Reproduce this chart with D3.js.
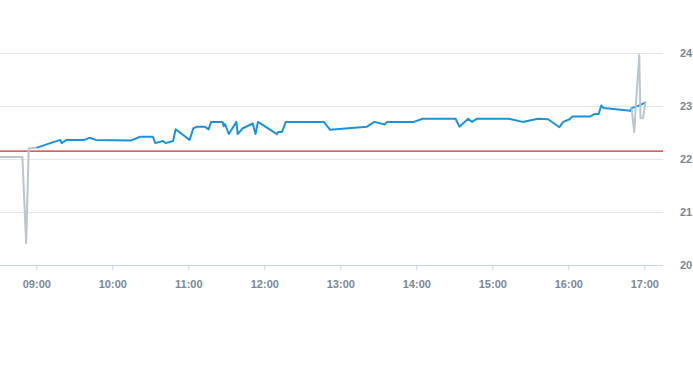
<!DOCTYPE html>
<html><head><meta charset="utf-8">
<script src="https://cdn.jsdelivr.net/npm/d3@7"></script>
<style>
html,body{margin:0;padding:0;background:#fff;}
svg{display:block;}
text{font-family:"Liberation Sans",Arial,sans-serif;}
</style></head>
<body><svg id="c" width="693" height="365"></svg>
<script>
// Data (time, price)
const preTimes  = ["08:30","08:49","08:52","08:54","09:00"];
const preValues = [22.04, 22.04, 20.41, 22.20, 22.21];

const mainTimes = ["09:00","09:11","09:19","09:20","09:24","09:38","09:42","09:47","10:15","10:22","10:32","10:34","10:40","10:42","10:48","10:50","11:01","11:04","11:07","11:13","11:16","11:18","11:27","11:28","11:29","11:32","11:38","11:39","11:43","11:51","11:53","11:55","12:10","12:11","12:14","12:17","12:47","12:52","13:21","13:27","13:35","13:37","13:58","14:05","14:31","14:34","14:41","14:44","14:48","15:13","15:24","15:36","15:44","15:53","15:56","16:01","16:03","16:17","16:21","16:24","16:26","16:28","16:49","16:50","16:57","17:01"];
const mainValues = [22.21,22.30,22.36,22.30,22.36,22.36,22.40,22.36,22.35,22.42,22.42,22.30,22.34,22.30,22.34,22.56,22.36,22.58,22.61,22.61,22.56,22.70,22.70,22.62,22.66,22.47,22.70,22.47,22.58,22.67,22.47,22.70,22.47,22.51,22.51,22.70,22.70,22.55,22.61,22.70,22.65,22.70,22.70,22.76,22.76,22.61,22.76,22.70,22.76,22.76,22.70,22.76,22.75,22.60,22.70,22.75,22.80,22.80,22.85,22.85,23.01,22.96,22.91,22.96,23.02,23.07];

const postTimes  = ["16:50","16:52","16:53","16:56","16:57","16:59","17:01"];
const postValues = [22.96, 22.51, 22.89, 23.96, 22.77, 22.77, 23.08];

const prevClose = 22.15;
const yTicks = [20, 21, 22, 23, 24];
const xTickLabels = ["09:00","10:00","11:00","12:00","13:00","14:00","15:00","16:00","17:00"];
const xDomain = ["08:30","17:15"];

const parse = d3.timeParse("%H:%M");
const toPts = (ts, vs) => ts.map((t,i)=>({t:parse(t), v:vs[i]}));

const svg = d3.select("#c");
const plotL = 0, plotR = 663, plotT = 53, plotB = 265;

const x = d3.scaleTime().domain(xDomain.map(parse)).range([-1.7, 663.3]);
const y = d3.scaleLinear().domain([20,24]).range([plotB, plotT]);

svg.append("defs").append("clipPath").attr("id","clip")
  .append("rect").attr("x",plotL).attr("y",0).attr("width",plotR-plotL).attr("height",365);

// gridlines
svg.append("g").selectAll("line").data(yTicks.filter(d=>d>20)).join("line")
  .attr("x1",plotL).attr("x2",plotR)
  .attr("y1",d=>Math.round(y(d))+0.5).attr("y2",d=>Math.round(y(d))+0.5)
  .attr("stroke","#e6e6e6").attr("stroke-width",1);

// y labels (right)
svg.append("g").selectAll("text").data(yTicks).join("text")
  .attr("x",680).attr("y",d=>y(d)+4)
  .attr("fill","#7b8794").attr("font-size","11px").attr("font-weight","bold")
  .text(d=>d);

// x axis
const xAxis = d3.axisBottom(x)
  .tickValues(xTickLabels.map(parse))
  .tickFormat(d3.timeFormat("%H:%M"))
  .tickSize(5).tickSizeOuter(0);
const gx = svg.append("g").attr("transform",`translate(0,${plotB+0.5})`).call(xAxis);
gx.select(".domain").attr("d",`M${plotL},0H${plotR}`).attr("stroke","#ccd6eb");
gx.selectAll(".tick line").attr("stroke","#ccd6eb");
gx.selectAll(".tick text").attr("fill","#7b8794").attr("font-size","11px")
  .attr("font-weight","bold").attr("font-family","Liberation Sans, Arial, sans-serif").attr("dy","1.35em");

const line = d3.line().x(d=>x(d.t)).y(d=>y(d.v));
const g = svg.append("g").attr("clip-path","url(#clip)");

// previous close
g.append("line").attr("x1",plotL).attr("x2",plotR)
  .attr("y1",y(prevClose)).attr("y2",y(prevClose))
  .attr("stroke","#d42a2a").attr("stroke-width",1.2);

g.append("path").datum(toPts(mainTimes,mainValues)).attr("d",line)
  .attr("fill","none").attr("stroke","#1a92dd").attr("stroke-width",2).attr("stroke-linejoin","round");
g.append("path").datum(toPts(preTimes,preValues)).attr("d",line)
  .attr("fill","none").attr("stroke","#bac5cd").attr("stroke-width",2).attr("stroke-linejoin","round");
g.append("path").datum(toPts(postTimes,postValues)).attr("d",line)
  .attr("fill","none").attr("stroke","#bac5cd").attr("stroke-width",2).attr("stroke-linejoin","round");
</script></body></html>
